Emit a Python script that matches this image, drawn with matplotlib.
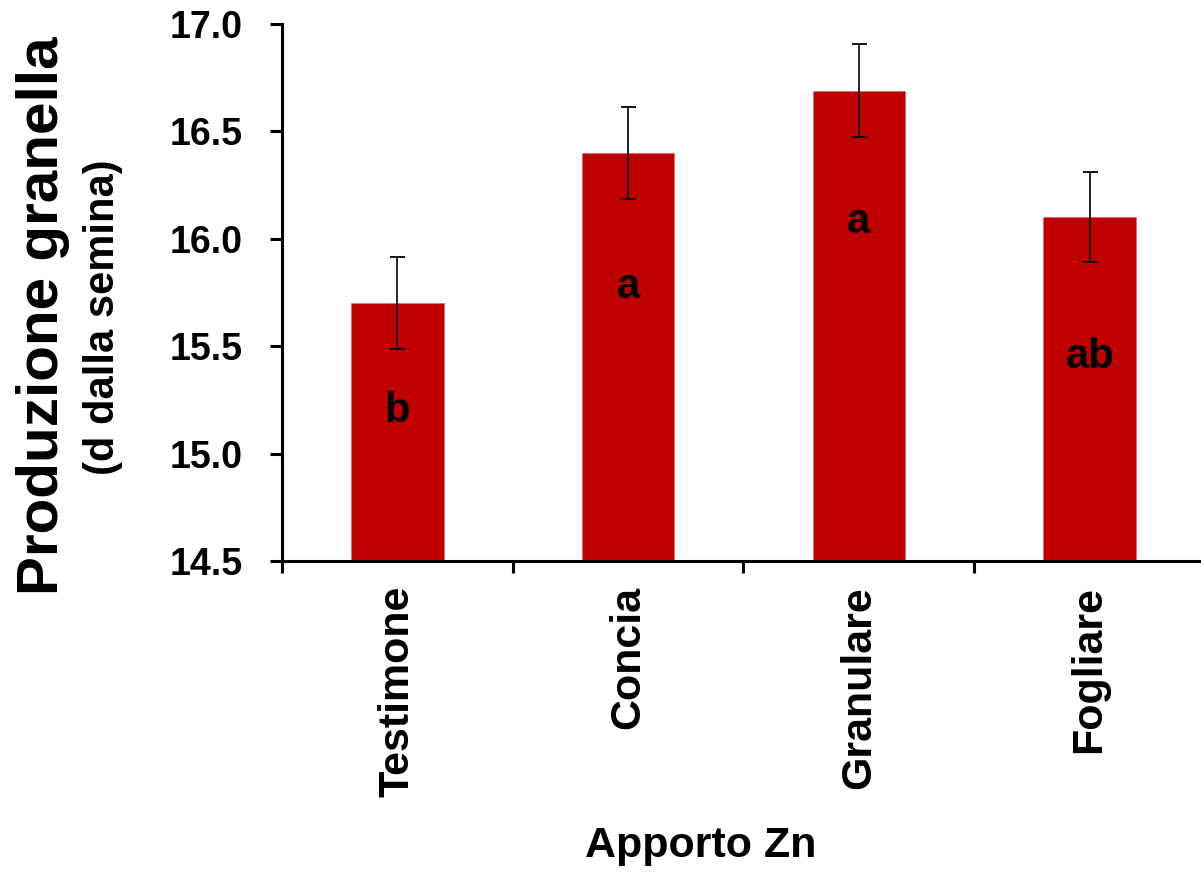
import matplotlib
matplotlib.use("Agg")
import matplotlib.pyplot as plt
import numpy as np

categories = ["Testimone", "Concia", "Granulare", "Fogliare"]
values = [15.70, 16.40, 16.69, 16.10]
errors = [0.215, 0.215, 0.215, 0.21]
letters = ["b", "a", "a", "ab"]
letter_y = [15.147, 15.724, 16.027, 15.399]
yticks = [14.5, 15.0, 15.5, 16.0, 16.5, 17.0]
ytick_labels = ["14.5", "15.0", "15.5", "16.0", "16.5", "17.0"]

plt.rcParams['font.family'] = ['Liberation Sans', 'DejaVu Sans']
plt.rcParams['font.weight'] = 'bold'

fig = plt.figure(figsize=(12.01, 8.76), dpi=100)
ax = fig.add_axes([0.2348, 0.3596, 0.7685, 0.613])

x = np.arange(len(categories))
ax.bar(x, values, width=0.4, color='#C00000', edgecolor='#E07070', linewidth=0.6, zorder=2)
ax.errorbar(x, values, yerr=errors, fmt='none', ecolor='black', elinewidth=1.2,
            capsize=5.4, capthick=1.3, zorder=3)

for xi, lab, ly in zip(x, letters, letter_y):
    ax.text(xi, ly, lab, ha='center', va='baseline', fontsize=30, fontweight='bold',
            color='black', zorder=4)

ax.set_ylim(14.5, 17.0)
ax.set_xlim(-0.5, 3.5)
ax.set_yticks(yticks)
ax.set_yticklabels(ytick_labels, fontsize=27, fontweight='bold')
ax.set_xticks(x)
ax.set_xticklabels(categories, rotation=90, fontsize=31, fontweight='bold', va='top', ha='center')
ax.set_xticks(np.arange(-0.5, 4.0, 1.0), minor=True)

for s in ['top', 'right']:
    ax.spines[s].set_visible(False)
for s in ['left', 'bottom']:
    ax.spines[s].set_linewidth(2.2)

ax.tick_params(axis='y', which='major', direction='out', length=8.5, width=2.2, pad=20)
ax.tick_params(axis='x', which='major', length=0, pad=18)
ax.tick_params(axis='x', which='minor', direction='out', length=8.5, width=2.2)

fig.text(43 / 1201, 1 - 316 / 876, "Produzione granella", rotation=90, ha='center', va='center',
         fontsize=42, fontweight='bold')
fig.text(103 / 1201, 1 - 317 / 876, "(d dalla semina)", rotation=90, ha='center', va='center',
         fontsize=30, fontweight='bold')
fig.text(701 / 1201, 1 - 857 / 876, "Apporto Zn", ha='center', va='baseline',
         fontsize=31, fontweight='bold')

fig.savefig("out.png", dpi=100)
